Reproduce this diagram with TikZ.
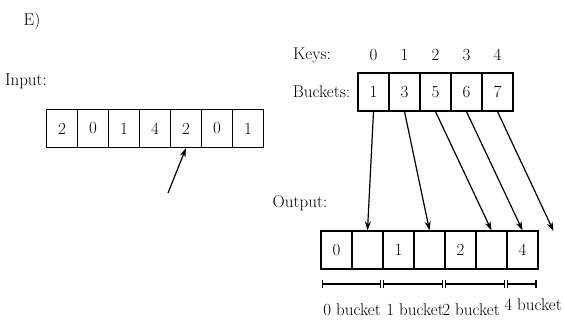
\documentclass[tikz,border=0pt]{standalone}
\usetikzlibrary{arrows.meta}
\tikzset{
  cellNode/.style={draw,line width=1.2pt,minimum width=31pt,minimum height=38pt,inner sep=0pt,font=\fontsize{17}{20}\selectfont},
  txt/.style={inner sep=0pt,font=\fontsize{17}{20}\selectfont},
  ptr/.style={-{Stealth[length=9pt,width=6pt]},line width=1.2pt},
  rangeBar/.style={{Bar[width=8pt]}-{Bar[width=8pt]},line width=1.2pt}
}
\begin{document}
\begin{tikzpicture}[x=1pt,y=-1pt]
  \useasboundingbox (0,0) rectangle (564,321);
  \node[txt] (title) at (32,21) {E)};
  \node[txt] (inLabel) at (26,81) {Input:};
  % input array
  \node[cellNode] (in0) at (62,128.5) {2};
  \node[cellNode] (in1) at (93,128.5) {0};
  \node[cellNode] (in2) at (124,128.5) {1};
  \node[cellNode] (in3) at (155,128.5) {4};
  \node[cellNode] (in4) at (186,128.5) {2};
  \node[cellNode] (in5) at (217,128.5) {0};
  \node[cellNode] (in6) at (248,128.5) {1};
  \coordinate (inTail) at (168,193);
  \draw[ptr] (inTail) -- (in4.south);
  % keys and buckets
  \node[txt] (keysLabel) at (312,55) {Keys:};
  \node[txt] (k0) at (373.5,55) {0};
  \node[txt] (k1) at (404.5,55) {1};
  \node[txt] (k2) at (435.5,55) {2};
  \node[txt] (k3) at (466.5,55) {3};
  \node[txt] (k4) at (497.5,55) {4};
  \node[txt] (bucketsLabel) at (321.5,92) {Buckets:};
  \node[cellNode] (b0) at (373.5,92) {1};
  \node[cellNode] (b1) at (404.5,92) {3};
  \node[cellNode] (b2) at (435.5,92) {5};
  \node[cellNode] (b3) at (466.5,92) {6};
  \node[cellNode] (b4) at (497.5,92) {7};
  % output array
  \node[txt] (outLabel) at (300,203) {Output:};
  \node[cellNode] (o0) at (336.5,250) {0};
  \node[cellNode] (o1) at (367.5,250) {};
  \node[cellNode] (o2) at (398.5,250) {1};
  \node[cellNode] (o3) at (429.5,250) {};
  \node[cellNode] (o4) at (460.5,250) {2};
  \node[cellNode] (o5) at (491.5,250) {};
  \node[cellNode] (o6) at (522.5,250) {4};
  \coordinate (o7) at (553.5,231);
  \draw[ptr] (b0.south) -- (o1.north);
  \draw[ptr] (b1.south) -- (o3.north);
  \draw[ptr] (b2.south) -- (o5.north);
  \draw[ptr] (b3.south) -- (o6.north);
  \draw[ptr] (b4.south) -- (o7);
  % bucket ranges
  \coordinate (r0) at (321,284);
  \coordinate (r1) at (382,284);
  \coordinate (r2) at (444,284);
  \coordinate (r3) at (506,284);
  \coordinate (r4) at (537,284);
  \draw[rangeBar] ([xshift=0.5pt]r0) -- ([xshift=-1pt]r1);
  \draw[rangeBar] ([xshift=1pt]r1) -- ([xshift=-1pt]r2);
  \draw[rangeBar] ([xshift=1pt]r2) -- ([xshift=-1pt]r3);
  \draw[rangeBar] ([xshift=1pt]r3) -- ([xshift=-0.5pt]r4);
  \node[txt] (range0) at (352,310) {0 bucket};
  \node[txt] (range1) at (415,310) {1 bucket};
  \node[txt] (range2) at (471,310) {2 bucket};
  \node[txt] (range4) at (533,305) {4 bucket};
\end{tikzpicture}
\end{document}
